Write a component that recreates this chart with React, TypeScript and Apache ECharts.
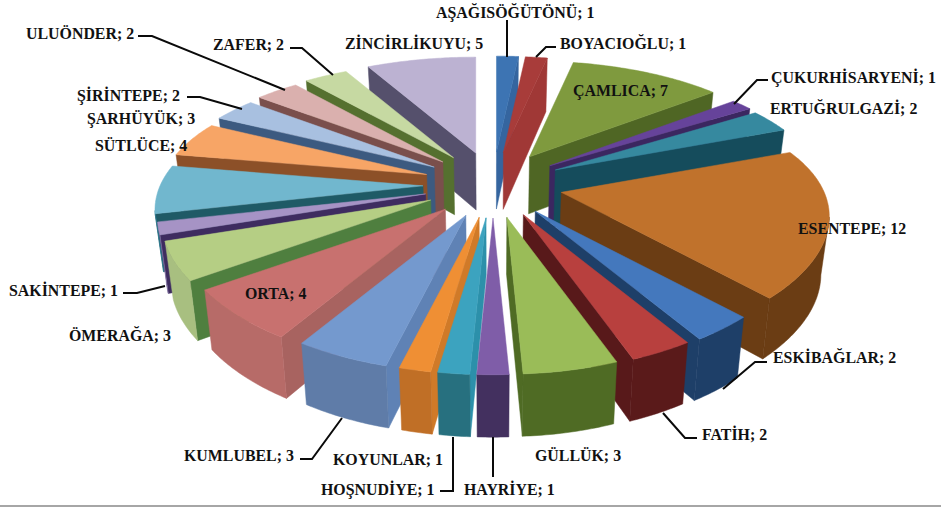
import React, { useEffect, useRef } from "react";
import * as echarts from "echarts";

const categories = ["AŞAĞISÖĞÜTÖNÜ","BOYACIOĞLU","ÇAMLICA","ÇUKURHİSARYENİ","ERTUĞRULGAZİ","ESENTEPE","ESKİBAĞLAR","FATİH","GÜLLÜK","HAYRİYE","HOŞNUDİYE","KOYUNLAR","KUMLUBEL","ORTA","ÖMERAĞA","SAKİNTEPE","SÜTLÜCE","ŞARHÜYÜK","ŞİRİNTEPE","ULUÖNDER","ZAFER","ZİNCİRLİKUYU"];
const values = [1,1,7,1,2,12,2,2,3,1,1,1,3,4,3,1,4,3,2,2,2,5];

const topColors = ["#3D74B3","#A83C3A","#7F9A3E","#66439A","#36899F","#C0722C","#4478BD","#B8403E","#9ABC58","#7F5DA8","#3CA3BF","#EF8F34","#7499CE","#C8716F","#B5CE84","#A693C5","#71B7CE","#F7A566","#A8C0E0","#DAB0AE","#C6D9A2","#BCB2D2"];
const sideColors = ["#35659F","#A03836","#4F6624","#3B2760","#154C5C","#6B3D14","#1E3F68","#58191A","#4F6B24","#43305F","#2C90AA","#D07A28","#5F82B5","#A86360","#4F7F3F","#3E2C60","#1F5A66","#8C5028","#3C5A80","#7A4F4C","#55702F","#55506C"];
const rimColors = ["#264A73","#6E2322","#4F6624","#3B2760","#154C5C","#6B3D14","#1E3F68","#5A1A1A","#4F6B24","#43305F","#27707F","#C06F26","#5F7CA8","#B76B68","#A8BF80","#8070A0","#2C7A90","#B06B35","#7088A8","#A07E7C","#7F9A60","#7F7898"];

const labelSpots: number[][] = [[436,12],[560,43],[573,90],[771,77],[770,108],[798,228],[773,357],[702,434],[535,455],[464,489],[321,489],[333,459],[184,455],[245,293],[69,335],[9,290],[95,145],[87,118],[77,95],[26,33],[213,44],[345,43]];
const leaders: number[][][] = [
  [[507,20],[507,57]],
  [[536,57],[546,47],[556,47]],
  [[734,104],[757,80],[768,80]],
  [[723,389],[755,362],[767,362]],
  [[663,413],[685,438],[697,438]],
  [[493,437],[493,477]],
  [[453,437],[453,491],[440,491]],
  [[342,418],[312,459],[300,459]],
  [[165,286],[137,293],[123,293]],
  [[242,109],[200,97],[187,97]],
  [[285,90],[152,36],[138,36]],
  [[333,75],[302,48],[290,48]],
];

const total = values.reduce((a, b) => a + b, 0);
const CX = 493, CY = 185, EX = 70, EY = 33, RX = 263, RY = 119, KX = 0.193, K = 0.2409, SQ = 0.975;

function project(tx: number, ty: number, theta: number): number[] {
  const x = Math.sin(theta), y = Math.cos(theta);
  const s = 1 / (1 + K * y);
  const sx = 1 / (1 + KX * y);
  return [tx + RX * x * sx, ty - RY * y * s, s];
}
function lower(p: number[]): number[] {
  return [CX + (p[0] - CX) * SQ, p[1] + 40 + 17 * p[2]];
}
const cross = (a: number[], b: number[]) => a[0] * b[1] - a[1] * b[0];

function renderSlice(_: any, api: any) {
  const i = api.value(0), value = api.value(1), before = api.value(2);
  const a0 = (before / total) * 2 * Math.PI;
  const a1 = ((before + value) / total) * 2 * Math.PI;
  const mid = (a0 + a1) / 2;
  const tx = CX + EX * Math.sin(mid), ty = CY - EY * Math.cos(mid);
  const tip = [tx, ty, 1];
  const n = Math.max(3, Math.round(value * 8));
  const arc: number[][] = [];
  for (let k = 0; k <= n; k++) arc.push(project(tx, ty, a0 + ((a1 - a0) * k) / n));
  const children: any[] = [];
  const poly = (pts: number[][], fill: string) =>
    children.push({ type: "polygon", shape: { points: pts.map((p) => [p[0], p[1]]) }, style: { fill, stroke: fill, lineWidth: 0.5 } });
  const midPt = arc[Math.floor(n / 2)];
  for (const edge of [arc[0], arc[n]]) {
    const d = [edge[0] - tx, edge[1] - ty];
    const inside = cross(d, [midPt[0] - tx, midPt[1] - ty]);
    const down = cross(d, [0, 1]);
    if (inside * down < 0) poly([tip, edge, lower(edge), lower(tip)], sideColors[i]);
  }
  let run: number[][] = [];
  const flush = () => {
    if (run.length > 1) poly([...run, ...run.slice().reverse().map(lower)], rimColors[i]);
    run = [];
  };
  for (let k = 0; k < n; k++) {
    if (arc[k + 1][0] < arc[k][0]) {
      if (!run.length) run.push(arc[k]);
      run.push(arc[k + 1]);
    } else flush();
  }
  flush();
  poly([tip, ...arc], topColors[i]);
  return { type: "group", children };
}

export default function App() {
  const ref = useRef<HTMLDivElement>(null);
  useEffect(() => {
    const chart = echarts.init(ref.current!, undefined, { renderer: "svg" });
    let c = 0;
    const rows = values.map((v, i) => {
      const row = [i, v, c];
      c += v;
      return row;
    });
    const depth = (r: number[]) => -Math.cos(((r[2] + r[1] / 2) / total) * 2 * Math.PI);
    rows.sort((a, b) => depth(a) - depth(b));
    chart.setOption({
      animation: false,
      backgroundColor: "#fff",
      series: [{ type: "custom", coordinateSystem: "none", silent: true, renderItem: renderSlice, data: rows, z: 1 }],
      graphic: [
        { type: "rect", z: 5, shape: { x: 0, y: 505, width: 941, height: 2 }, style: { fill: "#A6A6A6" } },
        ...leaders.map((pts) => ({ type: "polyline", z: 10, shape: { points: pts }, style: { stroke: "#0a0a0a", lineWidth: 2, fill: "none" } })),
        ...categories.map((name, i) => ({
          type: "text", z: 11, x: labelSpots[i][0], y: labelSpots[i][1],
          style: { text: `${name}; ${values[i]}`, fill: "#111", font: 'bold 15.9px "Liberation Serif"', verticalAlign: "middle", align: "left" },
        })),
      ],
    });
    return () => chart.dispose();
  }, []);
  return <div ref={ref} style={{ position: "fixed", left: 0, top: 0, width: 941, height: 507 }} />;
}
